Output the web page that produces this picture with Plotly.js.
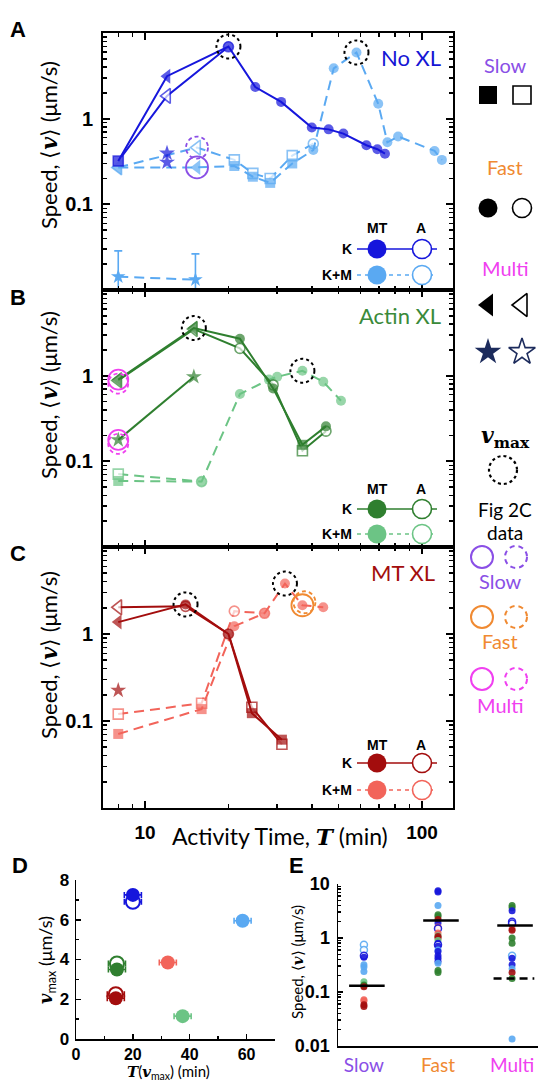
<!DOCTYPE html>
<html><head><meta charset="utf-8">
<script src="https://cdn.plot.ly/plotly-3.0.1.min.js"></script>
<style>html,body{margin:0;padding:0;background:#fff}#chart{width:539px;height:1084px}</style>
</head><body><div id="chart"></div>
<script>
// ================= DATA =================
// Panel A (No XL)
const aK_T = [8, 12, 20, 25, 31, 40, 46, 52, 63, 69, 73.5];
const aK_MT = [0.32, 3.13, 6.95, 2.34, 1.57, 0.79, 0.75, 0.67, 0.49, 0.44, 0.39];
const aK_cls = ['slow','multi','fast','fast','fast','fast','fast','fast','fast','fast','fast'];
const aK_A_T = [8, 12, 20];
const aK_A = [0.32, 1.84, 6.9];
const aK_A_cls = ['slow','multi','fast'];
const aKstar_T = [12, 12];
const aKstar = [0.395, 0.31];
const aKM_T = [8, 15.4, 21, 24.5, 28.3, 34, 40.5, 48, 58, 69.5, 75, 82, 111, 118];
const aKM_MT = [0.27, 0.27, 0.28, 0.21, 0.178, 0.30, 0.43, 3.87, 5.93, 1.49, 0.53, 0.62, 0.42, 0.33];
const aKM_cls = ['multi','multi','slow','slow','slow','slow','fast','fast','fast','fast','fast','fast','fast','fast'];
const aKM_A_T = [8, 15.4, 21, 24.5, 28.3, 34, 40.5];
const aKM_A = [0.27, 0.46, 0.33, 0.23, 0.20, 0.37, 0.51];
const aKM_A_cls = ['multi','multi','slow','slow','slow','slow','fast'];
const aKMstar_T = [8, 15.2];
const aKMstar = [0.0143, 0.0132];
const aKMstar_errUp = [0.0143, 0.0132];
const aKMstar_errDown = [0.012, 0.011];

// Panel B (Actin XL)
const bK_T = [8, 15, 22, 29, 37, 45];
const bK_MT = [0.90, 3.6, 2.7, 0.71, 0.156, 0.256];
const bK_A = [0.88, 3.5, 2.08, 0.78, 0.133, 0.225];
const bK_cls = ['multi','multi','fast','fast','slow','fast'];
const bKstar_T = [8, 15];
const bKstar = [0.178, 0.97];
const bKM_T = [8, 16, 22, 28, 30, 37, 44, 51];
const bKM_MT = [0.059, 0.058, 0.61, 0.90, 0.97, 1.14, 0.85, 0.51];
const bKM_cls = ['slow','fast','fast','fast','fast','fast','fast','fast'];
const bKM_A_T = [8, 16];
const bKM_A = [0.071, 0.058];
const bKM_A_cls = ['slow','fast'];

// Panel C (MT XL)
const cK_T = [8, 14, 20, 24.3, 31.2];
const cK_MT = [1.37, 2.19, 1.0, 0.123, 0.061];
const cK_A = [2.03, 2.08, 1.0, 0.144, 0.054];
const cK_cls = ['multi','fast','fast','slow','slow'];
const cKstar_T = [8];
const cKstar = [0.225];
const cKM_T = [8, 16, 21, 27, 32, 37, 44];
const cKM_MT = [0.071, 0.137, 1.23, 1.73, 3.8, 2.14, 2.03];
const cKM_cls = ['slow','slow','fast','fast','fast','fast','fast'];
const cKM_A_T = [8, 16, 21, 27];
const cKM_A = [0.12, 0.16, 1.83, 1.73];
const cKM_A_cls = ['slow','slow','fast','fast'];

// Panel D: T(vmax), vmax
const dT = [20, 20, 58.6, 14.4, 14.4, 32.3, 14, 14, 37.5];
const dV = [6.9, 7.25, 5.95, 3.8, 3.5, 3.85, 2.25, 2.05, 1.15];
const dSer = ['kNo_o','kNo','kmNo','kAct_o','kAct','kmMT','kMT_o','kMT','kmAct'];
const dErr = [3, 3, 3, 3, 3, 3, 3, 3, 3];

// Panel E
const eCats = ['Slow', 'Fast', 'Multi'];
const eSlowV = [0.75, 0.60, 0.47, 0.44, 0.32, 0.29, 0.24, 0.155, 0.135, 0.13, 0.125, 0.072, 0.068, 0.058, 0.054];
const eSlowS = ['kmNo_o','kmNo_o','kNo_o','kNo','kmNo','kmNo','kmNo','kmAct','kAct','kAct','kMT','kmMT','kmMT','kMT','kMT'];
const eFastV = [7.5, 7.1, 4.0, 2.7, 2.5, 2.2, 1.9, 1.6, 1.5, 1.24, 1.1, 1.07, 1.0, 0.9, 0.8, 0.75, 0.7, 0.6, 0.56, 0.47, 0.42, 0.37, 0.34, 0.25, 0.23];
const eFastS = ['kNo','kNo','kmNo','kAct','kAct','kMT','kNo','kmMT','kNo_o','kmMT','kmAct','kMT','kMT','kmAct','kNo','kNo_o','kNo','kmNo','kNo','kNo','kNo','kNo','kmNo','kAct','kAct'];
const eMultiV = [4.0, 3.65, 3.2, 2.0, 1.85, 1.47, 1.39, 1.0, 0.8, 0.47, 0.42, 0.32, 0.27, 0.23, 0.178, 0.0135];
const eMultiS = ['kAct','kAct','kNo','kNo_o','kNo_o','kmMT','kMT','kAct','kAct','kmNo_o','kNo','kNo','kmNo','kMT','kAct','kmNo'];
const eMid = [0.13, 2.1, 1.7];
const eMultiLow = [0.178];

// ================= STYLE =================
const COL = {kNo:'#1616dc', kmNo:'#5aa9f2', kAct:'#2f7f2f', kmAct:'#6cc485', kMT:'#a30d0d', kmMT:'#f2645a'};
const PURPLE = '#8a4fe6', ORANGE = '#f08a32', MAGENTA = '#f040f0', NAVY = '#1c2b5c';
const SYM = {slow:'square', fast:'circle', multi:'triangle-left', star:'star'};
const SIZE = {slow:10, fast:10, multi:13, star:12};
const W = 539, H = 1084;
const P = x => x / W, Q = y => 1 - y / H;
const SANS = 'Lato, "Open Sans", Arial, sans-serif';
const AR = 'Arial, "Liberation Sans", sans-serif';
const VSPAN = '<span style="font-family:DejaVu Serif;font-style:italic;font-weight:bold">v</span>';
const XR = [0.848, 2.112];
const PANEL = {'': [33, 290], '2': [290, 547], '3': [547, 808]};
const XPPD = (453 - 103) / (XR[1] - XR[0]);

const traces = [];
function ser(ax, T, V, cls, color, open, dash, mode) {
  traces.push({type:'scatter', mode: mode || 'lines+markers', xaxis:'x'+ax, yaxis:'y'+ax, x:T, y:V,
    line:{color:color, width:2, dash: dash ? '10px,6px' : 'solid'},
    marker:{symbol: cls.map(c => SYM[c]), size: cls.map(c => SIZE[c]), color: open ? 'white' : color,
      line:{color:color, width: open ? 1.6 : 0}},
    hoverinfo:'skip', showlegend:false});
}
const fill = (n, v) => Array(n).fill(v);

// Panel A
ser('', aKM_A_T, aKM_A, aKM_A_cls, COL.kmNo, true, true);
ser('', aKM_T, aKM_MT, aKM_cls, COL.kmNo, false, true);
ser('', aK_A_T, aK_A, aK_A_cls, COL.kNo, true, false);
ser('', aK_T, aK_MT, aK_cls, COL.kNo, false, false);
ser('', aKstar_T, aKstar, fill(aKstar.length,'star'), COL.kNo, false, false, 'markers');
traces.push({type:'scatter', mode:'lines+markers', xaxis:'x', yaxis:'y', x:aKMstar_T, y:aKMstar,
  line:{color:COL.kmNo, width:2, dash:'10px,6px'}, marker:{symbol:'star', size:11, color:COL.kmNo},
  error_y:{type:'data', array:aKMstar_errUp, arrayminus:aKMstar_errDown, color:COL.kmNo, thickness:1.6, width:4},
  hoverinfo:'skip', showlegend:false});

// Panel B
ser('2', bKM_A_T, bKM_A, bKM_A_cls, COL.kmAct, true, true);
ser('2', bKM_T, bKM_MT, bKM_cls, COL.kmAct, false, true);
ser('2', bK_T, bK_A, bK_cls, COL.kAct, true, false);
ser('2', bK_T, bK_MT, bK_cls, COL.kAct, false, false);
ser('2', bKstar_T, bKstar, fill(bKstar.length,'star'), COL.kAct, false, false);

// Panel C
ser('3', cKM_A_T, cKM_A, cKM_A_cls, COL.kmMT, true, true);
ser('3', cKM_T, cKM_MT, cKM_cls, COL.kmMT, false, true);
ser('3', cK_T, cK_A, cK_cls, COL.kMT, true, false);
ser('3', cK_T, cK_MT, cK_cls, COL.kMT, false, false);
ser('3', cKstar_T, cKstar, fill(cKstar.length,'star'), COL.kMT, false, false, 'markers');

// Panel D
dSer.forEach((s, i) => {
  const key = s.replace('_o',''), open = s.endsWith('_o');
  traces.push({type:'scatter', mode:'markers', xaxis:'x4', yaxis:'y4', x:[dT[i]], y:[dV[i]],
    marker:{symbol:'circle', size:14, color: open ? 'white' : COL[key], line:{color:COL[key], width: open ? 2 : 0}},
    error_x:{type:'data', array:[dErr[i]], color:COL[key], thickness:1.6, width:3},
    hoverinfo:'skip', showlegend:false});
});

// Panel E
[[eSlowV, eSlowS], [eFastV, eFastS], [eMultiV, eMultiS]].forEach(([vals, sers], ci) => {
  vals.forEach((v, i) => {
    const key = sers[i].replace('_o',''), open = sers[i].endsWith('_o');
    traces.push({type:'scatter', mode:'markers', xaxis:'x5', yaxis:'y5', x:[ci], y:[v],
      marker:{symbol:'circle', size:7, color: open ? 'white' : COL[key], opacity:0.9,
        line:{color:COL[key], width: open ? 1.5 : 0}}, hoverinfo:'skip', showlegend:false});
  });
});
eMid.forEach((m, i) => {
  traces.push({type:'scatter', mode:'lines', xaxis:'x5', yaxis:'y5', x:[i - 0.2, i + 0.28], y:[m, m],
    line:{color:'black', width:2.5}, hoverinfo:'skip', showlegend:false});
});
traces.push({type:'scatter', mode:'lines', xaxis:'x5', yaxis:'y5', x:[1.75, 2.3], y:[eMultiLow[0], eMultiLow[0]],
  line:{color:'black', width:2.5, dash:'8px,5px'}, hoverinfo:'skip', showlegend:false});

// ===== legend glyphs (overlay pixel axis x6/y6) =====
function glyph(x, y, symbol, color, open, size) {
  traces.push({type:'scatter', mode:'markers', xaxis:'x6', yaxis:'y6', x:[x], y:[y],
    marker:{symbol:symbol, size:size, color: open ? 'white' : color, line:{color:color, width: open ? 1.6 : 0}},
    hoverinfo:'skip', showlegend:false});
}
function legLine(x0, x1, y, color, dash) {
  traces.push({type:'scatter', mode:'lines', xaxis:'x6', yaxis:'y6', x:[x0, x1], y:[y, y],
    line:{color:color, width:1.5, dash: dash ? '4px,4px' : 'solid'}, hoverinfo:'skip', showlegend:false});
}
const panelLeg = [
  {k:249, km:275, kc:COL.kNo, kmc:COL.kmNo},
  {k:509, km:534, kc:COL.kAct, kmc:COL.kmAct},
  {k:763, km:790, kc:COL.kMT, kmc:COL.kmMT}
];
panelLeg.forEach(L => {
  legLine(357, 437, L.k, L.kc, false);
  glyph(377, L.k, 'circle', L.kc, false, 19);
  glyph(422, L.k, 'circle', L.kc, true, 19);
  legLine(357, 437, L.km, L.kmc, true);
  glyph(377, L.km, 'circle', L.kmc, false, 19);
  glyph(422, L.km, 'circle', L.kmc, true, 19);
});
glyph(488, 95, 'square', 'black', false, 18); glyph(522, 95, 'square', 'black', true, 18);
glyph(488, 208, 'circle', 'black', false, 19); glyph(522, 208, 'circle', 'black', true, 19);
glyph(488, 305, 'triangle-left', 'black', false, 20); glyph(522, 305, 'triangle-left', 'black', true, 20);
glyph(488, 352, 'star', NAVY, false, 20); glyph(522, 352, 'star', NAVY, true, 20);

// ===== shapes =====
const shapes = [];
// ring of pixel radius r around a data point (log axes), optional pixel offset dx (right), dy (up)
function ring(ax, T, V, r, color, dash, dx, dy) {
  dx = dx || 0; dy = dy || 0;
  const yppd = (PANEL[ax][1] - PANEL[ax][0]) / 3;
  const lx = Math.log10(T) + dx / XPPD, ly = Math.log10(V) + dy / yppd;
  shapes.push({type:'circle', xref:'x'+ax, yref:'y'+ax,
    x0: Math.pow(10, lx - r / XPPD), x1: Math.pow(10, lx + r / XPPD),
    y0: Math.pow(10, ly - r / yppd), y1: Math.pow(10, ly + r / yppd),
    line:{color:color, width: dash === 'dot' ? 2 : 1.8, dash:dash}, layer:'above'});
}
// v_max circles at the maximum of each MT series
[['', aK_T, aK_MT], ['', aKM_T, aKM_MT], ['2', bK_T, bK_MT], ['2', bKM_T, bKM_MT], ['3', cK_T, cK_MT], ['3', cKM_T, cKM_MT]]
  .forEach(([ax, T, V]) => { const i = V.indexOf(Math.max(...V)); ring(ax, T[i], V[i], 12, 'black', 'dot'); });
// Fig 2C highlights
ring('', aKM_T[1], aKM_MT[1], 11, PURPLE, 'solid');
ring('', aKM_A_T[1], aKM_A[1], 11, PURPLE, '4px,3px');
ring('2', bK_T[0], bK_MT[0], 10, MAGENTA, 'solid');
ring('2', bK_T[0], bK_MT[0], 10, MAGENTA, '4px,3px', 0, -4);
ring('2', bKstar_T[0], bKstar[0], 10, MAGENTA, 'solid');
ring('2', bKstar_T[0], bKstar[0], 10, MAGENTA, '4px,3px', 0, -4);
ring('3', cKM_T[5], cKM_MT[5], 11, ORANGE, 'solid');
ring('3', cKM_T[5], cKM_MT[5], 11, ORANGE, '4px,3px', 2, 3);
// right legend rings
function pring(cx, cy, r, color, dash, w) {
  shapes.push({type:'circle', xref:'x6', yref:'y6', x0:cx - r, x1:cx + r, y0:cy - r, y1:cy + r,
    line:{color:color, width:w || 2, dash:dash}});
}
pring(503, 470, 14, 'black', 'dot', 2.2);
pring(482, 557, 11, PURPLE, 'solid'); pring(516, 557, 11, PURPLE, '5px,4px');
pring(482, 617, 11, ORANGE, 'solid'); pring(516, 617, 11, ORANGE, '5px,4px');
pring(482, 679, 11, MAGENTA, 'solid'); pring(516, 679, 11, MAGENTA, '5px,4px');

// ===== annotations =====
const ann = [];
function txt(x, y, text, size, color, opts) {
  ann.push(Object.assign({xref:'paper', yref:'paper', x:P(x), y:Q(y), text:text, showarrow:false,
    font:{family:SANS, size:size, color:color || 'black'}, xanchor:'center', yanchor:'middle'}, opts || {}));
}
const big = {font:{family:AR, size:22, color:'black'}};
txt(18, 30, '<b>A</b>', 22, 'black', big);
txt(18, 297, '<b>B</b>', 22, 'black', big);
txt(18, 553, '<b>C</b>', 22, 'black', big);
txt(20, 865, '<b>D</b>', 22, 'black', big);
txt(297, 865, '<b>E</b>', 22, 'black', big);
const speed = 'Speed, ⟨' + VSPAN + '⟩ (μm/s)';
txt(48, 145, speed, 22, 'black', {textangle:-90});
txt(48, 395, speed, 22, 'black', {textangle:-90});
txt(48, 655, speed, 22, 'black', {textangle:-90});
txt(297, 962, speed, 15, 'black', {textangle:-90});
txt(443, 57, 'No XL', 22, '#1515d5', {xanchor:'right'});
txt(443, 315, 'Actin XL', 22, '#3a8a3a', {xanchor:'right'});
txt(437, 572, 'MT XL', 22, '#a30d0d', {xanchor:'right'});
const small = {font:{family:AR, size:14, color:'black'}};
[[228, 249, 275], [489, 509, 534], [745, 763, 790]].forEach(([h, k, km]) => {
  txt(377, h, '<b>MT</b>', 14, 'black', small);
  txt(421, h, '<b>A</b>', 14, 'black', small);
  txt(354, k, '<b>K</b>', 14, 'black', Object.assign({xanchor:'right'}, small));
  txt(354, km, '<b>K+M</b>', 14, 'black', Object.assign({xanchor:'right'}, small));
});
txt(280, 836, 'Activity Time, <span style="font-family:DejaVu Serif;font-style:italic;font-weight:bold">T</span> (min)', 23);
txt(505, 65, 'Slow', 20, PURPLE);
txt(505, 167, 'Fast', 20, ORANGE);
txt(505, 268, 'Multi', 20, MAGENTA);
txt(505, 437, VSPAN + '<sub><b>max</b></sub>', 22, 'black', {font:{family:'DejaVu Serif', size:22, color:'black'}});
txt(505, 509, 'Fig 2C', 19);
txt(505, 533, 'data', 19);
txt(500, 581, 'Slow', 20, PURPLE);
txt(500, 641, 'Fast', 20, ORANGE);
txt(500, 705, 'Multi', 20, MAGENTA);
txt(46, 960, VSPAN + '<sub>max</sub> (μm/s)', 18, 'black', {textangle:-90});
txt(168, 1072, '<span style="font-family:DejaVu Serif;font-style:italic;font-weight:bold">T</span>(' + VSPAN + '<sub>max</sub>) (min)', 15);

// ===== axes =====
const minorLogY = [0.02,0.03,0.04,0.05,0.06,0.07,0.08,0.09,0.2,0.3,0.4,0.5,0.6,0.7,0.8,0.9,2,3,4,5,6,7,8,9];
const minorLogX = [8,9,20,30,40,50,60,70,80,90];
const base = {showline:true, linewidth:2, linecolor:'black', mirror:'allticks', ticks:'inside', ticklen:7,
  tickwidth:2, tickcolor:'black', showgrid:false, zeroline:false, fixedrange:true};
function mx(anchor, showLabels) {
  return Object.assign({}, base, {type:'log', domain:[P(103), P(453)], range:XR, anchor:anchor,
    tickvals:[10, 100], ticktext:['10','100'], showticklabels:showLabels, ticklabelstandoff:6,
    tickfont:{family:AR, size:19, color:'black', weight:'bold'},
    minor:{tickvals:minorLogX, ticks:'inside', ticklen:4, tickwidth:1.5, tickcolor:'black'}});
}
function my(anchor, ax) {
  const [top, bottom] = PANEL[ax];
  return Object.assign({}, base, {type:'log', domain:[Q(bottom), Q(top)], range:[-2, 1], anchor:anchor,
    tickvals:[0.1, 1], ticktext:['0.1','1'], ticklabelstandoff:4,
    tickfont:{family:AR, size:20, color:'black', weight:'bold'},
    minor:{tickvals:minorLogY, ticks:'inside', ticklen:4, tickwidth:1.5, tickcolor:'black'}});
}
const layout = {
  width:W, height:H, autosize:false, margin:{l:0, r:0, t:0, b:0},
  paper_bgcolor:'white', plot_bgcolor:'rgba(0,0,0,0)', showlegend:false,
  xaxis: mx('y', false), yaxis: my('x', ''),
  xaxis2: mx('y2', false), yaxis2: my('x2', '2'),
  xaxis3: mx('y3', true), yaxis3: my('x3', '3'),
  xaxis4: {domain:[P(76), P(275)], range:[0, 70], anchor:'y4', tickvals:[0,20,40,60], showline:true, linewidth:1.5,
    linecolor:'black', ticks:'inside', ticklen:5, tickwidth:1.5, tickcolor:'black', showgrid:false, zeroline:false,
    ticklabelstandoff:0, tickfont:{family:AR, size:16, color:'black', weight:'bold'},
    minor:{dtick:10, ticks:'inside', ticklen:3, tickcolor:'black'}, fixedrange:true},
  yaxis4: {domain:[Q(1039), Q(880)], range:[0, 8], anchor:'x4', tickvals:[0,2,4,6,8], showline:true, linewidth:1.5,
    linecolor:'black', ticks:'inside', ticklen:5, tickwidth:1.5, tickcolor:'black', showgrid:false, zeroline:false,
    ticklabelstandoff:2, tickfont:{family:AR, size:17, color:'black', weight:'bold'},
    minor:{dtick:1, ticks:'inside', ticklen:3, tickcolor:'black'}, fixedrange:true},
  xaxis5: {domain:[P(338), P(538)], range:[-0.35, 2.35], anchor:'y5', tickvals:[0,1,2],
    ticktext:['<span style="color:' + PURPLE + '">' + eCats[0] + '</span>', '<span style="color:' + ORANGE + '">' + eCats[1] + '</span>',
      '<span style="color:' + MAGENTA + '">' + eCats[2] + '</span>'],
    tickfont:{family:SANS, size:19}, showline:true, linewidth:1.5, linecolor:'black', ticks:'', showgrid:false,
    zeroline:false, ticklabelstandoff:2, fixedrange:true},
  yaxis5: {type:'log', domain:[Q(1046), Q(884)], range:[-2, 1], anchor:'x5', tickvals:[0.01,0.1,1,10],
    ticktext:['0.01','0.1','1','10'], showline:true, linewidth:1.5, linecolor:'black', ticks:'inside', ticklen:5,
    tickwidth:1.5, tickcolor:'black', showgrid:false, zeroline:false, ticklabelstandoff:3,
    tickfont:{family:AR, size:18, color:'black', weight:'bold'},
    minor:{tickvals:minorLogY, ticks:'inside', ticklen:3, tickcolor:'black'}, fixedrange:true},
  xaxis6: {domain:[0, 1], range:[0, W], anchor:'y6', visible:false, fixedrange:true},
  yaxis6: {domain:[0, 1], range:[H, 0], anchor:'x6', visible:false, fixedrange:true},
  shapes: shapes, annotations: ann
};
Plotly.newPlot('chart', traces, layout, {staticPlot:true, displayModeBar:false});
</script></body></html>
